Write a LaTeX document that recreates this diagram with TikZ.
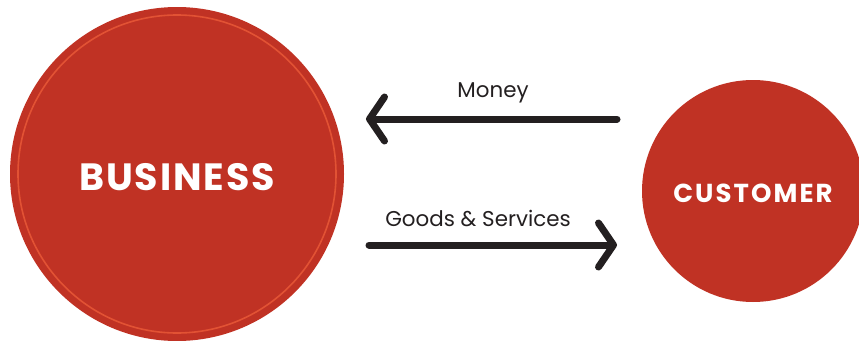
\documentclass[tikz,border=0pt]{standalone}
\usepackage{fontspec}
\setmainfont{Poppins}
\usetikzlibrary{arrows.meta}
\definecolor{bizred}{RGB}{192,50,36}
\definecolor{ringred}{RGB}{226,82,52}
\definecolor{inkgray}{RGB}{35,31,32}
\tikzset{party/.style={circle, fill=bizred, text=white, inner sep=0pt, font=\bfseries},
  flow/.style={line width=7pt, inkgray, line cap=round,
    -{Straight Barb[round, length=15pt, width=44pt]}},
  flowlabel/.style={text=inkgray, inner sep=0pt, font=\fontsize{21.4}{23}\selectfont}}

\begin{document}
\begin{tikzpicture}[x=1pt, y=-1pt]
    \useasboundingbox (0,0) rectangle (859,340);
    \begin{scope}
    \clip (0,0) rectangle (859,340);
    \node[party, minimum size=334pt] (business) at (177,174) {};
    \node[party, minimum size=222pt] (customer) at (753,191) {};
    \end{scope}
    \draw[ringred, line width=1.6pt] (business.center) circle (159pt);
    \node[text=white, font=\bfseries\fontsize{38}{40}\selectfont\addfontfeature{LetterSpace=5}]
      (bizname) at (177,177) {BUSINESS};
    \node[text=white, font=\bfseries\fontsize{26}{28}\selectfont\addfontfeature{LetterSpace=8}]
      (custname) at (753,193) {CUSTOMER};
    % payments and deliveries
    \coordinate (moneyfrom) at (617,119);
    \coordinate (moneyto) at (366,119);
    \coordinate (goodsfrom) at (369,245);
    \coordinate (goodsto) at (617,245);
    \draw[flow] (moneyfrom) -- (moneyto);
    \draw[flow] (goodsfrom) -- (goodsto);
    \node[flowlabel] (money) at (493,93) {Money};
    \node[flowlabel] (goods) at (478,218) {Goods \& Services};
\end{tikzpicture}
\end{document}
